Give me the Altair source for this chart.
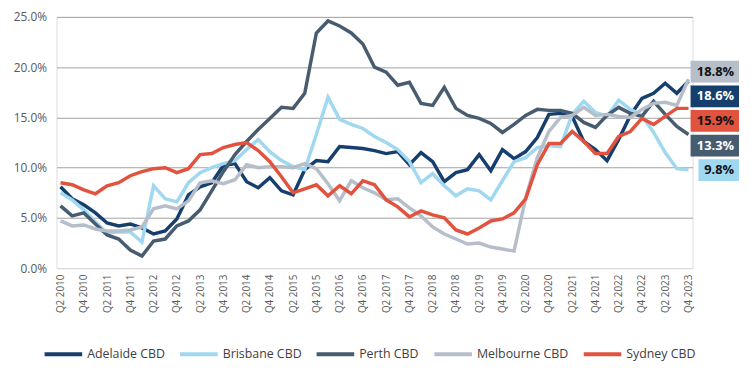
import altair as alt
import pandas as pd

quarters = [f"Q{q} {y}" for y in range(2010, 2024) for q in (1, 2, 3, 4)][1:]
tick_labels = quarters[::2]

series = ["Adelaide CBD", "Brisbane CBD", "Perth CBD", "Melbourne CBD", "Sydney CBD"]
colors = ["#173f6e", "#9fd8f0", "#485c70", "#b5bec9", "#e2533f"]
box_text_colors = ["#ffffff", "#111111", "#ffffff", "#111111", "#111111"]

adelaide = [8.1, 6.9, 6.3, 5.5, 4.5, 4.2, 4.4, 4.0, 3.4, 3.7, 4.9, 7.3, 8.1, 8.5, 10.2, 10.4, 8.6, 8.0, 9.0, 7.7,
            7.3, 9.8, 10.7, 10.6, 12.1, 12.0, 11.9, 11.7, 11.4, 11.6, 10.3, 11.5, 10.6, 8.6, 9.5, 9.8, 11.3, 9.7,
            11.8, 10.9, 11.6, 13.0, 15.3, 15.4, 15.1, 12.6, 11.8, 10.7, 12.8, 15.2, 16.9, 17.4, 18.4, 17.4, 18.6]
brisbane = [7.5, 6.8, 5.8, 4.6, 3.5, 3.6, 3.6, 2.6, 8.2, 6.9, 6.6, 8.5, 9.5, 10.0, 10.4, 10.7, 11.8, 12.8, 11.6,
            10.7, 10.1, 9.8, 13.3, 17.0, 14.8, 14.3, 13.9, 13.1, 12.5, 11.8, 10.6, 8.5, 9.4, 8.2, 7.2, 7.9, 7.7,
            6.8, 8.7, 10.6, 11.0, 12.0, 12.2, 12.1, 15.3, 16.6, 15.5, 15.1, 16.7, 15.8, 15.2, 13.5, 11.5, 9.9, 9.8]
perth = [6.2, 5.2, 5.5, 4.4, 3.3, 2.9, 1.8, 1.2, 2.7, 2.9, 4.2, 4.7, 5.8, 7.7, 9.6, 11.3, 12.6, 13.8, 14.9, 16.0,
         15.9, 17.4, 23.4, 24.6, 24.1, 23.4, 22.3, 20.0, 19.5, 18.2, 18.5, 16.4, 16.2, 18.0, 15.9, 15.2, 14.9, 14.4,
         13.5, 14.3, 15.2, 15.8, 15.7, 15.7, 15.4, 14.5, 14.0, 15.2, 16.0, 15.4, 15.1, 16.6, 15.3, 14.1, 13.3]
melbourne = [4.7, 4.2, 4.3, 3.9, 3.7, 3.7, 3.8, 4.1, 5.9, 6.2, 5.9, 6.7, 8.5, 8.7, 8.4, 8.8, 10.3, 10.0, 10.1,
             10.1, 10.0, 10.4, 9.9, 8.4, 6.7, 8.7, 8.0, 7.5, 6.8, 6.9, 6.0, 5.2, 4.1, 3.4, 2.9, 2.4, 2.5, 2.1, 1.9,
             1.7, 7.0, 11.0, 13.6, 15.0, 15.2, 16.0, 15.2, 15.3, 15.1, 15.0, 15.8, 16.4, 16.5, 16.2, 18.8]
sydney = [8.5, 8.3, 7.8, 7.4, 8.2, 8.5, 9.2, 9.6, 9.9, 10.0, 9.5, 9.9, 11.3, 11.4, 12.0, 12.3, 12.5, 11.7, 10.6,
          9.1, 7.5, 7.9, 8.3, 7.2, 8.2, 7.4, 8.7, 8.3, 6.8, 6.1, 5.1, 5.7, 5.3, 5.0, 3.8, 3.4, 4.0, 4.7, 4.9, 5.5,
          6.9, 10.3, 12.4, 12.4, 13.6, 12.6, 11.4, 11.4, 13.1, 13.6, 14.9, 14.3, 15.1, 15.9, 15.9]

values = [adelaide, brisbane, perth, melbourne, sydney]
y_ticks = [0, 5, 10, 15, 20, 25]

rows = []
for s, vals in zip(series, values):
    for q, v in zip(quarters, vals):
        rows.append({"series": s, "quarter": q, "value": v})
df = pd.DataFrame(rows)

# end-of-line value labels, spread apart so they don't overlap
ends = sorted(
    [(vals[-1], s, c, tc) for s, vals, c, tc in zip(series, values, colors, box_text_colors)],
    key=lambda t: -t[0],
)
lab_rows = []
prev = None
for v, s, c, tc in ends:
    pos = v + 0.75 if prev is None else min(v, prev - 2.45)
    prev = pos
    lab_rows.append({"series": s, "val": v, "pos": pos, "top": pos + 1.08, "bot": pos - 1.08,
                     "txt": f"{v:.1f}%", "bg": c, "tc": tc})
labels = pd.DataFrame(lab_rows)

W, H = 643, 254
FONT = "Open Sans"
ydom = alt.Scale(domain=[0, 25], nice=False)
y_axis = alt.Axis(
    values=y_ticks, labelExpr="format(datum.value, '.1f') + '%'",
    title=None, domain=False, ticks=False, grid=True, labelPadding=10,
    labelFontSize=12, labelColor="#595959", labelFont=FONT,
    gridColor={"condition": {"test": "datum.value === 0", "value": "#d9d9d9"}, "value": "#a3a3a3"},
    gridWidth=1,
)

lines = alt.Chart(df).mark_line(strokeWidth=3.5).encode(
    x=alt.X(
        "quarter:O",
        sort=quarters,
        scale=alt.Scale(padding=0.35),
        axis=alt.Axis(
            values=tick_labels, labelAngle=270, title=None, domain=False, ticks=False, grid=False,
            labelFontSize=10, labelColor="#595959", labelPadding=6, labelFont=FONT,
        ),
    ),
    y=alt.Y("value:Q", scale=ydom, axis=y_axis),
    color=alt.Color(
        "series:N",
        sort=series,
        scale=alt.Scale(domain=series, range=colors),
        legend=alt.Legend(
            orient="none", legendX=-14, legendY=320, direction="horizontal", title=None,
            symbolType="stroke", symbolSize=1444, symbolStrokeWidth=4, labelFontSize=12.5,
            labelFont=FONT, labelColor="#404040", columnPadding=7, labelOffset=3,
        ),
    ),
    order=alt.Order("series:N"),
)

boxes = alt.Chart(labels).transform_calculate(
    bx=f"{W + 47} - (length(datum.txt) * 8 + 9)"
).mark_rect().encode(
    x=alt.X("bx:Q", scale=None, axis=None),
    x2=alt.value(W + 47),
    y=alt.Y("top:Q", scale=ydom, axis=y_axis),
    y2="bot:Q",
    color=alt.Color("bg:N", scale=None),
)

texts = alt.Chart(labels).mark_text(
    align="right", baseline="middle", fontWeight="bold", fontSize=13, font=FONT
).encode(
    x=alt.value(W + 42),
    y=alt.Y("pos:Q", scale=ydom, axis=y_axis),
    text="txt:N",
    color=alt.Color("tc:N", scale=None),
)

chart = alt.layer(lines, boxes, texts).properties(
    width=W, height=H,
    autosize=alt.AutoSizeParams(type="none"),
    padding={"left": 49, "top": 7, "right": 50, "bottom": 107},
).configure_view(stroke=None).configure(background="white")

chart.save("out.html", embed_options={"renderer": "svg", "actions": False})
